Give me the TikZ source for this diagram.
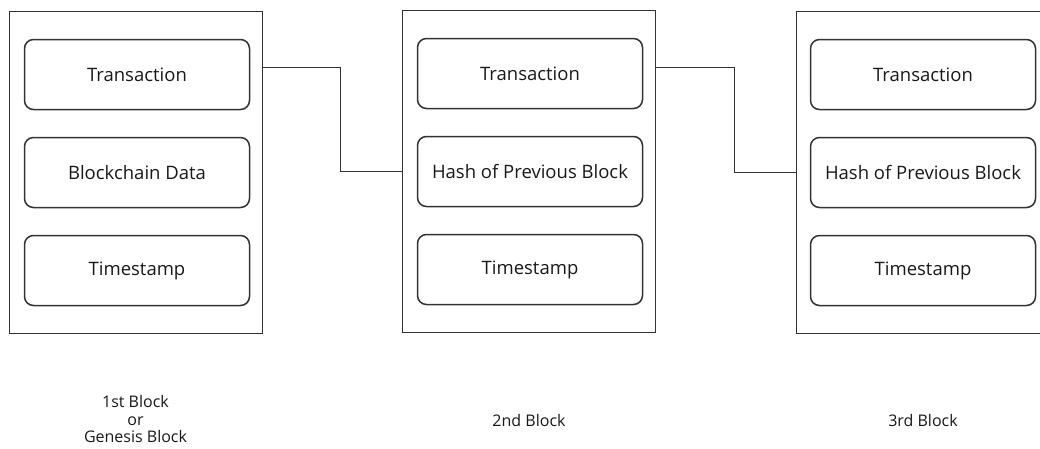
\documentclass[tikz,border=0pt]{standalone}
\usepackage{fontspec}
\setmainfont{Open Sans}
\begin{document}
\begin{tikzpicture}[x=1pt,y=-1pt,
  line width=1.5pt,
  every node/.style={inner sep=0pt, outer sep=0pt},
  blockframe/.style={draw=black!80, minimum width=253pt, minimum height=322pt},
  field/.style={draw=black!80, rounded corners=9pt, minimum width=225pt, minimum height=70pt,
    font=\fontsize{18.5}{22}\selectfont, text=black!90},
  caption/.style={font=\fontsize{16}{17.5}\selectfont, text=black!90, align=center},
  link/.style={draw=black!80, line width=1.5pt}]
\useasboundingbox (0,0) rectangle (1040,448);
\clip (0,0) rectangle (1040,448);

% block frames
\node[blockframe] (b1) at (136,172.5) {};
\node[blockframe] (b2) at (529,171.5) {};
\node[blockframe] (b3) at (923,172.5) {};

% first block
\node[field] (b1t) at (137,74.5) {Transaction};
\node[field] (b1d) at (137,172.5) {Blockchain Data};
\node[field] (b1s) at (137,270.5) {Timestamp};

% second block
\node[field] (b2t) at (530,73.5) {Transaction};
\node[field] (b2h) at (530,171.5) {Hash of Previous Block};
\node[field] (b2s) at (530,269.5) {Timestamp};

% third block
\node[field] (b3t) at (923,74.5) {Transaction};
\node[field] (b3h) at (923,172.5) {Hash of Previous Block};
\node[field] (b3s) at (923,270.5) {Timestamp};

% links between blocks
\coordinate (j1) at (340.5,67.5);
\coordinate (j2) at (734.5,67.5);
\draw[link] (b1.east |- j1) -- (j1) |- (b2.west);
\draw[link] (b2.east |- j2) -- (j2) |- (b3.west);

% captions
\node[caption] (c1) at (135.5,419) {1st Block\\or\\Genesis Block};
\node[caption] (c2) at (529,420) {2nd Block};
\node[caption] (c3) at (923,420) {3rd Block};
\end{tikzpicture}
\end{document}
